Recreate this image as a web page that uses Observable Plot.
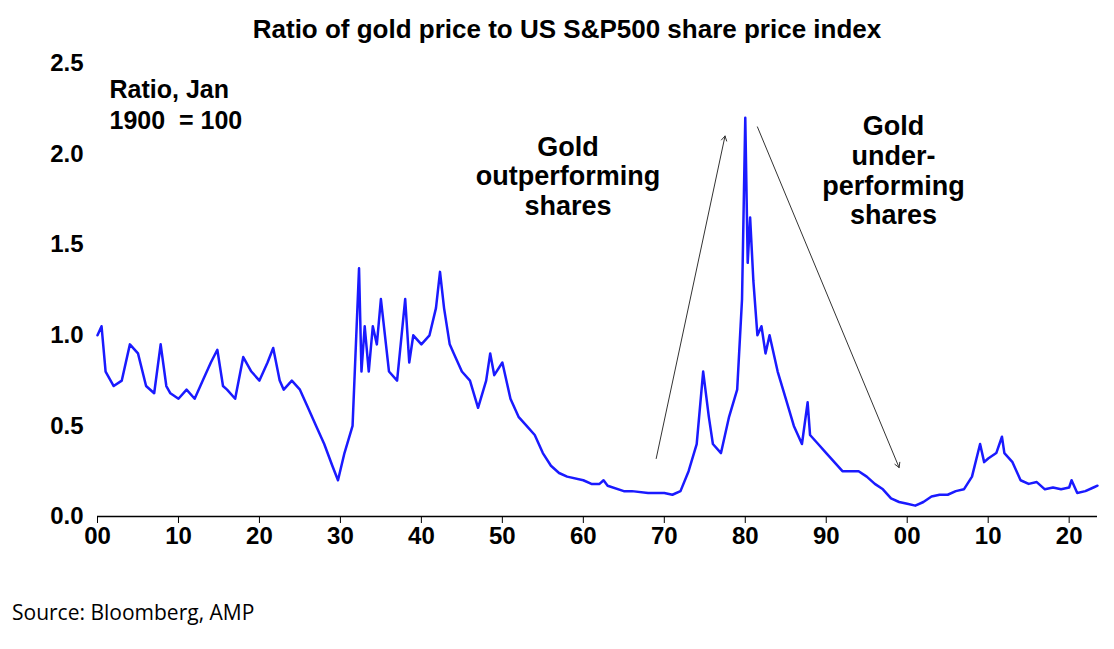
<!DOCTYPE html>
<html><head><meta charset="utf-8">
<script src="https://cdn.jsdelivr.net/npm/d3@7"></script>
<script src="https://cdn.jsdelivr.net/npm/@observablehq/plot@0.6"></script>
<style>
body{margin:0;background:#fff;font-family:"Liberation Sans",Arial,sans-serif}
#title{height:50px;line-height:58px;text-align:center;font-weight:bold;font-size:26px;padding-left:20px}
#src{font-family:"Open Sans",sans-serif;font-size:21px;padding:8px 0 0 12px}
</style></head><body>
<div id="title">Ratio of gold price to US S&amp;P500 share price index</div>
<div id="chart"></div>
<div id="src">Source: Bloomberg, AMP</div>
<script>
// year (fractional) and ratio
const years = [1900,1900.5,1901,1902,1903,1904,1905,1906,1907,1907.8,1908.5,1909,1910,1911,1912,1913,1914,1914.8,1915.5,1916,1917,1918,1919,1920,1921,1921.7,1922.5,1923,1924,1925,1926,1927,1928,1929,1929.7,1930.5,1931.5,1932.3,1932.6,1933,1933.5,1934,1934.5,1935,1935.5,1936,1937,1938,1938.5,1939,1940,1941,1941.8,1942.3,1942.8,1943.5,1944,1945,1946,1947,1948,1948.5,1949,1950,1951,1952,1953,1954,1955,1956,1957,1958,1960,1961,1962,1962.5,1963,1965,1966,1968,1970,1971,1972,1973,1974,1974.8,1975.5,1976,1977,1978,1979,1979.6,1980,1980.3,1980.6,1981,1981.5,1982,1982.5,1983,1984,1985,1986,1987,1987.7,1988,1989,1990,1991,1992,1993,1994,1995,1996,1997,1998,1999,2000,2001,2002,2003,2004,2005,2006,2007,2008,2009,2009.5,2010,2011,2011.7,2012,2013,2014,2015,2016,2017,2018,2019,2020,2020.3,2021,2022,2023,2023.5]
const ratios = [1.0,1.05,0.8,0.72,0.75,0.95,0.9,0.72,0.68,0.95,0.72,0.68,0.65,0.7,0.65,0.75,0.85,0.92,0.72,0.7,0.65,0.88,0.8,0.75,0.85,0.93,0.75,0.7,0.75,0.7,0.6,0.5,0.4,0.28,0.2,0.35,0.5,1.37,0.8,1.05,0.8,1.05,0.95,1.2,1.0,0.8,0.75,1.2,0.85,1.0,0.95,1.0,1.15,1.35,1.15,0.95,0.9,0.8,0.75,0.6,0.75,0.9,0.78,0.85,0.65,0.55,0.5,0.45,0.35,0.28,0.24,0.22,0.2,0.18,0.18,0.2,0.17,0.14,0.14,0.13,0.13,0.12,0.14,0.25,0.4,0.8,0.55,0.4,0.35,0.55,0.7,1.2,2.2,1.4,1.65,1.3,1.0,1.05,0.9,1.0,0.8,0.65,0.5,0.4,0.63,0.45,0.4,0.35,0.3,0.25,0.25,0.25,0.22,0.18,0.15,0.1,0.08,0.07,0.06,0.08,0.11,0.12,0.12,0.14,0.15,0.22,0.4,0.3,0.32,0.35,0.44,0.35,0.3,0.2,0.18,0.19,0.15,0.16,0.15,0.16,0.2,0.13,0.14,0.16,0.17]
const data = years.map((y,i)=>({year:y, ratio:ratios[i]}))

const xTicks = [1900,1910,1920,1930,1940,1950,1960,1970,1980,1990,2000,2010,2020]
const yTicks = [0,0.5,1,1.5,2,2.5]

const arrows = [
  {x1:1969, y1:0.32, x2:1977.5, y2:2.1},
  {x1:1981.5, y1:2.15, x2:1999, y2:0.27}
]
const notes = [
  {x:1958.1, y:1.88, text:"Gold\noutperforming\nshares"},
  {x:1998.3, y:1.91, text:"Gold\nunder-\nperforming\nshares"}
]

const chart = Plot.plot({
  width:1114, height:540,
  marginTop:13, marginBottom:74, marginLeft:97, marginRight:17,
  style:{fontFamily:"Liberation Sans, Arial, sans-serif", fontSize:"24px", fontWeight:"bold", color:"#000"},
  x:{domain:[1900,2023.5], ticks:xTicks, tickFormat:d=>String(d%100).padStart(2,"0"), tickSize:7, tickPadding:3, label:null},
  y:{domain:[0,2.5], ticks:yTicks, tickFormat:d=>d.toFixed(1), tickSize:0, tickPadding:14, label:null},
  marks:[
    Plot.ruleY([0], {stroke:"#000", strokeWidth:1.5}),
    Plot.line(data, {x:"year", y:"ratio", stroke:"#1a1aff", strokeWidth:2.5}),
    Plot.arrow(arrows, {x1:"x1", y1:"y1", x2:"x2", y2:"y2", stroke:"#333", strokeWidth:1, headLength:8}),
    Plot.text(notes, {x:"x", y:"y", text:"text", fontSize:27, lineHeight:1.1, fill:"#000"}),
    Plot.text(["Ratio, Jan\n1900  = 100"], {frameAnchor:"top-left", dx:12, dy:12, fontSize:25, lineHeight:1.25, fill:"#000"})
  ]
})
document.getElementById("chart").append(chart)
</script>
</body></html>
